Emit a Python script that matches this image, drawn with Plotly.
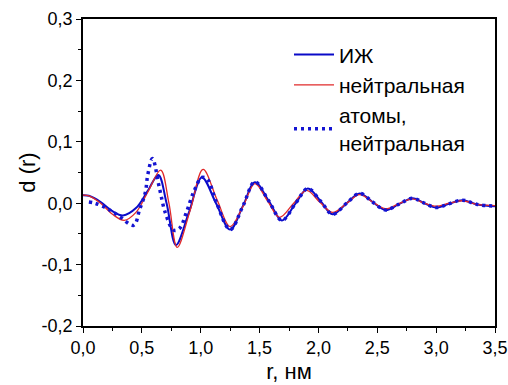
import plotly.graph_objects as go

# ИЖ (solid blue)
r_ij = [0, 0.05, 0.15, 0.25, 0.34, 0.45, 0.55, 0.64, 0.71, 0.79, 0.90, 1.01, 1.13, 1.25, 1.36, 1.46,
        1.58, 1.69, 1.80, 1.91, 2.02, 2.12, 2.24, 2.35, 2.46, 2.57, 2.68, 2.80, 2.90, 3.00, 3.11, 3.22,
        3.35, 3.50]
d_ij = [0.013, 0.012, 0.002, -0.013, -0.020, -0.008, 0.020, 0.046, 0.0, -0.068, -0.015, 0.042, 0.0,
        -0.043, -0.004, 0.034, 0.003, -0.028, -0.002, 0.024, 0.003, -0.018, 0.0, 0.016, 0.002, -0.011,
        -0.002, 0.008, 0.0, -0.007, -0.001, 0.005, -0.002, -0.005]

# нейтральная (thin red)
r_neu = [0, 0.05, 0.15, 0.25, 0.35, 0.45, 0.55, 0.66, 0.73, 0.80, 0.91, 1.02, 1.14, 1.25, 1.36, 1.46,
         1.57, 1.67, 1.79, 1.90, 2.01, 2.12, 2.24, 2.35, 2.46, 2.57, 2.68, 2.80, 2.90, 3.00, 3.11, 3.22,
         3.35, 3.50]
d_neu = [0.013, 0.012, 0.0, -0.018, -0.028, -0.015, 0.018, 0.054, 0.0, -0.072, -0.012, 0.055, 0.005,
         -0.038, -0.005, 0.032, 0.003, -0.023, 0.0, 0.021, 0.002, -0.015, 0.0, 0.014, 0.002, -0.009,
         -0.001, 0.007, 0.0, -0.005, 0.0, 0.004, -0.002, -0.004]

# атомы, нейтральная (dotted blue)
r_at = [0.05, 0.10, 0.20, 0.30, 0.43, 0.48, 0.53, 0.55, 0.59, 0.65, 0.70, 0.77, 0.82, 0.88, 0.94, 1.01,
        1.06, 1.13, 1.25, 1.36, 1.46, 1.58, 1.69, 1.80, 1.91, 2.02, 2.12, 2.24, 2.35, 2.46, 2.57, 2.68,
        2.80, 2.90, 3.00, 3.11, 3.22, 3.35, 3.50]
d_at = [0.002, 0.0, -0.008, -0.020, -0.036, -0.011, 0.018, 0.046, 0.073, 0.024, -0.016, -0.044, -0.041,
        -0.014, 0.018, 0.042, 0.038, 0.003, -0.043, -0.004, 0.035, 0.003, -0.028, -0.002, 0.024, 0.003,
        -0.018, 0.0, 0.016, 0.002, -0.011, -0.002, 0.008, 0.0, -0.007, -0.001, 0.005, -0.002, -0.005]

x_ticks = [0, 0.5, 1.0, 1.5, 2.0, 2.5, 3.0, 3.5]
x_labels = ["0,0", "0,5", "1,0", "1,5", "2,0", "2,5", "3,0", "3,5"]
y_ticks = [-0.2, -0.1, 0.0, 0.1, 0.2, 0.3]
y_labels = ["-0,2", "-0,1", "0,0", "0,1", "0,2", "0,3"]

FONT = "Arial, Liberation Sans, sans-serif"

fig = go.Figure()
fig.add_trace(go.Scatter(x=r_ij, y=d_ij, mode="lines", name="ИЖ",
                         line=dict(color="#0a0ac8", width=2, shape="spline", smoothing=1.0)))
fig.add_trace(go.Scatter(x=r_neu, y=d_neu, mode="lines", name="нейтральная",
                         line=dict(color="#e02a2a", width=1.3, shape="spline", smoothing=1.0)))
fig.add_trace(go.Scatter(x=r_at, y=d_at, mode="lines", name="атомы,<br>нейтральная",
                         line=dict(color="#1414d2", width=3.5, dash="3px,4px", shape="spline", smoothing=1.0)))

axis_common = dict(showline=True, linecolor="black", linewidth=1.5, mirror=True,
                   ticks="outside", ticklen=5, tickwidth=1.3, tickcolor="black",
                   showgrid=False, zeroline=False, automargin=False,
                   tickfont=dict(family=FONT, size=18, color="black"))

fig.update_xaxes(range=[0, 3.5], tickvals=x_ticks, ticktext=x_labels,
                 minor=dict(dtick=0.25, ticks="outside", ticklen=3, tickcolor="black", showgrid=False),
                 title=dict(text="r, нм", font=dict(family=FONT, size=22, color="black"), standoff=6),
                 **axis_common)
fig.update_yaxes(range=[-0.2, 0.3], tickvals=y_ticks, ticktext=y_labels,
                 minor=dict(dtick=0.05, ticks="outside", ticklen=3, tickcolor="black", showgrid=False),
                 title=dict(text="d (r)", font=dict(family=FONT, size=22, color="black"), standoff=0),
                 **axis_common)

fig.update_layout(
    width=508, height=385,
    margin=dict(l=83, r=13, t=19, b=59, autoexpand=False),
    paper_bgcolor="white", plot_bgcolor="white",
    font=dict(family=FONT, color="black"),
    legend=dict(x=0.5, y=0.95, xanchor="left", yanchor="top",
                font=dict(family=FONT, size=21, color="black"),
                bgcolor="rgba(0,0,0,0)", tracegroupgap=0, itemwidth=40),
)

fig.write_html("out.html")
